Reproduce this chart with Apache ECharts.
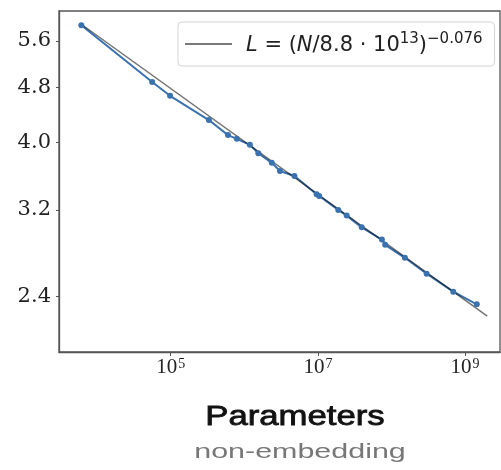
<!DOCTYPE html>
<html>
<head>
<meta charset="utf-8">
<script src="https://cdn.jsdelivr.net/npm/echarts@6/dist/echarts.min.js"></script>
<style>html,body{margin:0;padding:0;background:#fff;}#c{width:501px;height:470px;}</style>
</head>
<body>
<div id="c"></div>
<script>
// Data
const params = [6.1e3, 5.6e4, 9.8e4, 3.3e5, 6.0e5, 7.9e5, 1.19e6, 1.55e6, 2.36e6, 3.05e6, 4.8e6, 9.6e6, 1.04e7, 1.89e7, 2.46e7, 3.94e7, 7.4e7, 8.2e7, 1.52e8, 3.0e8, 6.9e8, 1.44e9];
const loss = [5.90, 4.89, 4.67, 4.31, 4.10, 4.05, 3.97, 3.86, 3.74, 3.64, 3.58, 3.37, 3.35, 3.20, 3.14, 3.02, 2.90, 2.85, 2.73, 2.59, 2.44, 2.34];
const fitParams = [6.1e3, 2.0e9];
const fitLoss = [5.92, 2.25];
const yTickLabels = [2.4, 3.2, 4.0, 4.8, 5.6];
const xTickExponents = [5, 7, 9];
const xRange = [3.482, 9.474];      // log10 of parameter range shown
const yRange = [1.998, 6.186];      // loss range shown

const lg = Math.log10;
const chart = echarts.init(document.getElementById('c'), null, {renderer: 'canvas'});
chart.setOption({
  animation: false,
  grid: {left: 59, right: 1, top: 11, bottom: 118, show: true, borderColor: '#555', borderWidth: 1.3, backgroundColor: 'transparent'},
  xAxis: {
    type: 'value', min: xRange[0], max: xRange[1],
    splitLine: {show: false},
    axisLine: {show: true, onZero: false, lineStyle: {color: '#555', width: 1.3}},
    axisTick: {show: true, customValues: xTickExponents, length: 4, lineStyle: {color: '#555'}},
    axisLabel: {
      customValues: xTickExponents, margin: 5,
      formatter: v => '{b|10}{s|' + Math.round(v) + '}',
      rich: {
        b: {fontFamily: 'Liberation Serif', fontSize: 21, lineHeight: 21, color: '#222', verticalAlign: 'bottom'},
        s: {fontFamily: 'Liberation Serif', fontSize: 14, lineHeight: 14, color: '#222', verticalAlign: 'top', padding: [0, 0, 12, 1]}
      }
    }
  },
  yAxis: {
    type: 'value', min: lg(yRange[0]), max: lg(yRange[1]),
    splitLine: {show: false},
    axisLine: {show: true, onZero: false, lineStyle: {color: '#555', width: 1.3}},
    axisTick: {show: true, customValues: yTickLabels.map(lg), length: 3, lineStyle: {color: '#555'}},
    axisLabel: {
      customValues: yTickLabels.map(lg), margin: 8,
      formatter: v => Math.pow(10, v).toFixed(1),
      fontFamily: 'DejaVu Serif', fontSize: 21, color: '#222'
    }
  },
  legend: {
    left: 178, top: 22,
    data: [{name: 'fit', icon: 'rect', itemStyle: {color: '#7a7a7a'}}],
    padding: [10, 12, 9, 7],
    backgroundColor: '#fff', borderColor: '#d3d3d3', borderWidth: 1, borderRadius: 4,
    itemWidth: 47, itemHeight: 2,
    formatter: () => '{sp| }{i|L}{n| = (}{i|N}{n|/8.8 · 10}{s|13}{n|)}{s|−0.076}',
    textStyle: {
      rich: {
        sp: {width: 9, fontSize: 21, lineHeight: 24, verticalAlign: 'bottom'},
        n: {fontFamily: 'DejaVu Sans', fontSize: 21, lineHeight: 24, color: '#222', verticalAlign: 'bottom'},
        i: {fontFamily: 'DejaVu Sans', fontStyle: 'italic', fontSize: 21, lineHeight: 24, color: '#222', verticalAlign: 'bottom'},
        s: {fontFamily: 'DejaVu Sans', fontSize: 15, lineHeight: 15, color: '#222', verticalAlign: 'top', padding: [0, 0, 10, 0]}
      }
    }
  },
  graphic: [
    {type: 'text', x: 295, y: 417, scaleX: 1.24, style: {x: 0, y: 0, text: 'Parameters', font: '28px "Liberation Sans"', textAlign: 'center', textVerticalAlign: 'middle', fill: '#111', stroke: '#111', lineWidth: 0.8}},
    {type: 'text', x: 300, y: 452, scaleX: 1.45, style: {x: 0, y: 0, text: 'non-embedding', font: '21px "Liberation Sans"', textAlign: 'center', textVerticalAlign: 'middle', fill: '#777'}}
  ],
  series: [
    {
      name: 'data', type: 'line',
      data: params.map((p, i) => [lg(p), lg(loss[i])]),
      symbol: 'circle', symbolSize: 6,
      itemStyle: {color: '#3a72b0'},
      lineStyle: {color: '#3a72b0', width: 2}
    },
    {
      name: 'fit', type: 'line',
      data: fitParams.map((p, i) => [lg(p), lg(fitLoss[i])]),
      symbol: 'none',
      itemStyle: {color: 'rgba(0,0,0,0.55)'},
      lineStyle: {color: 'rgba(0,0,0,0.55)', width: 1.5},
      z: 3
    }
  ]
});
</script>
</body>
</html>
